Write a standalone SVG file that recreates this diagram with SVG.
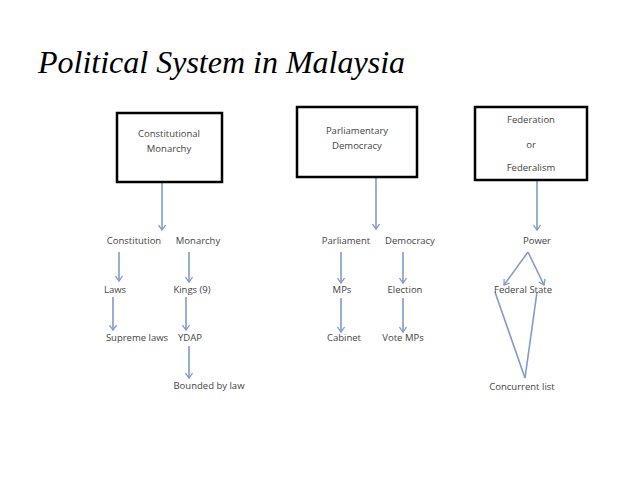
<svg xmlns="http://www.w3.org/2000/svg" width="638" height="479" viewBox="0 0 638 479">
<defs>
<marker id="ah" markerWidth="8" markerHeight="8" refX="6.5" refY="4" orient="auto" markerUnits="userSpaceOnUse" viewBox="0 0 8 8">
<path d="M1.5,0.5 L6.5,4 L1.5,7.5" fill="none" stroke="#7f9cc8" stroke-width="1.3"/>
</marker>
</defs>
<style>
.box{fill:#fff;stroke:#000;stroke-width:2.5}
.t{font-family:"Open Sans","Liberation Sans",sans-serif;font-size:9.5px;fill:#444;text-anchor:middle}
.c{stroke:#7f9cc8;stroke-width:1.6;fill:none}
.a{marker-end:url(#ah)}
.title{font-family:"Liberation Serif",serif;font-style:italic;font-size:32px;fill:#000}
</style>
<rect width="638" height="479" fill="#fff"/>
<text class="title" x="38" y="73">Political System in Malaysia</text>

<g id="connectors">
<line class="c a" x1="162" y1="182" x2="162" y2="230"/>
<line class="c a" x1="119" y1="252" x2="119" y2="281"/>
<line class="c a" x1="189" y1="252" x2="189" y2="282"/>
<line class="c a" x1="113" y1="297" x2="113" y2="330"/>
<line class="c a" x1="186" y1="297" x2="186" y2="330"/>
<line class="c a" x1="189" y1="346" x2="189" y2="378"/>

<line class="c a" x1="376" y1="177" x2="376" y2="229"/>
<line class="c a" x1="341" y1="252" x2="341" y2="283"/>
<line class="c a" x1="403" y1="252" x2="403" y2="283"/>
<line class="c a" x1="341" y1="298" x2="341" y2="332"/>
<line class="c a" x1="403" y1="298" x2="403" y2="332"/>

<line class="c a" x1="537" y1="180" x2="537" y2="230"/>
<line class="c a" x1="528" y1="252" x2="504" y2="285"/>
<line class="c a" x1="528" y1="252" x2="544" y2="285"/>
<line class="c" x1="495" y1="292" x2="525" y2="378"/>
<line class="c" x1="537" y1="292" x2="525" y2="378"/>
</g>

<g id="n-constmon"><rect class="box" x="117" y="113" width="105" height="69"/>
<text class="t" x="169" y="137">Constitutional</text><text class="t" x="169" y="152">Monarchy</text></g>
<g id="n-constitution"><text class="t" x="134" y="244">Constitution</text></g>
<g id="n-monarchy"><text class="t" x="198" y="244">Monarchy</text></g>
<g id="n-laws"><text class="t" x="115" y="293">Laws</text></g>
<g id="n-kings"><text class="t" x="192" y="293">Kings (9)</text></g>
<g id="n-supreme"><text class="t" x="137" y="341">Supreme laws</text></g>
<g id="n-ydap"><text class="t" x="190" y="341">YDAP</text></g>
<g id="n-bounded"><text class="t" x="209" y="389">Bounded by law</text></g>

<g id="n-parldem"><rect class="box" x="297" y="107" width="120" height="70"/>
<text class="t" x="357" y="134">Parliamentary</text><text class="t" x="357" y="149">Democracy</text></g>
<g id="n-parliament"><text class="t" x="346" y="244">Parliament</text></g>
<g id="n-democracy"><text class="t" x="410" y="244">Democracy</text></g>
<g id="n-mps"><text class="t" x="342" y="293">MPs</text></g>
<g id="n-election"><text class="t" x="405" y="293">Election</text></g>
<g id="n-cabinet"><text class="t" x="344" y="341">Cabinet</text></g>
<g id="n-votemps"><text class="t" x="403" y="341">Vote MPs</text></g>

<g id="n-federation"><rect class="box" x="475" y="107" width="112" height="73"/>
<text class="t" x="531" y="123">Federation</text><text class="t" x="531" y="148">or</text><text class="t" x="531" y="171">Federalism</text></g>
<g id="n-power"><text class="t" x="537" y="244">Power</text></g>
<g id="n-fedstate"><text class="t" x="523" y="293">Federal State</text></g>
<g id="n-concurrent"><text class="t" x="522" y="390">Concurrent list</text></g>
</svg>
